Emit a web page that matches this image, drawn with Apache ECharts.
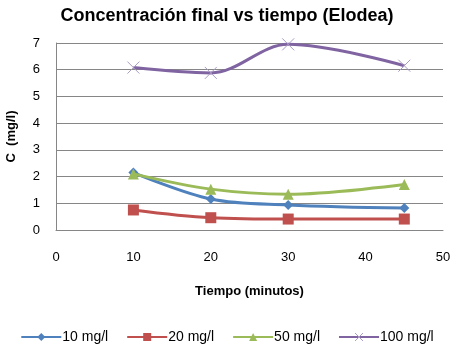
<!DOCTYPE html>
<html>
<head>
<meta charset="utf-8">
<script src="https://cdn.jsdelivr.net/npm/echarts@6/dist/echarts.min.js"></script>
<style>
  html, body { margin: 0; padding: 0; background: #fff; }
  #chart_container { width: 454px; height: 352px; }
</style>
</head>
<body>
<div id="chart_container"></div>
<script>
// concentration vs time chart

var tiempo = [10, 20, 30, 45];
var c10  = [2.15, 1.16, 0.94, 0.82];
var c20  = [0.75, 0.46, 0.41, 0.41];
var c50  = [2.10, 1.53, 1.34, 1.70];
var c100 = [6.08, 5.88, 6.95, 6.15];

var seriesNames = ['10 mg/l', '20 mg/l', '50 mg/l', '100 mg/l'];
var seriesData  = [c10, c20, c50, c100];
var colors  = ['#4F81BD', '#C0504D', '#9BBB59', '#8064A2'];
var symbols = ['diamond', 'rect', 'triangle',
    'path://M0,0 L10,10 M10,0 L0,10'];
var symSizes = [10, 11, 11, 12];

var font = 'Liberation Sans';

var chartDom = document.getElementById('chart_container');
var myChart = echarts.init(chartDom);

function pairs(ys) {
    return tiempo.map(function (t, i) { return [t, ys[i]]; });
}

var series = seriesData.map(function (ys, i) {
    var s = {
        name: seriesNames[i],
        type: 'line',
        smooth: 0.35,
        data: pairs(ys),
        symbol: symbols[i],
        symbolSize: symSizes[i],
        showSymbol: true,
        lineStyle: { color: colors[i], width: 3 },
        itemStyle: { color: colors[i] },
        z: 2 + i
    };
    if (i === 3) {
        // x marker drawn as stroke
        s.itemStyle = { color: 'none', borderColor: '#A99BC4', borderWidth: 1 };
    }
    return s;
});

var option = {
    animation: false,
    title: {
        text: 'Concentración final vs tiempo (Elodea)',
        left: 'center',
        top: 2,
        textStyle: { fontFamily: font, fontSize: 18, fontWeight: 'bold', color: '#000' }
    },
    legend: {
        bottom: 3,
        left: 'center',
        itemGap: 18,
        itemWidth: 40,
        itemHeight: 10,
        data: seriesNames.map(function (n, i) {
            return { name: n, itemStyle: i === 3 ? { color: 'none', borderColor: '#A99BC4', borderWidth: 1 } : { color: colors[i] } };
        }),
        textStyle: { fontFamily: font, fontSize: 14, color: '#000', padding: [0, 0, 0, -4] }
    },
    grid: { left: 56, right: 11, top: 43, bottom: 122, outerBoundsMode: 'none' },
    xAxis: {
        type: 'value',
        min: 0,
        max: 50,
        interval: 10,
        name: 'Tiempo (minutos)',
        nameLocation: 'middle',
        nameGap: 55,
        nameTextStyle: { fontFamily: font, fontSize: 13, fontWeight: 'bold', color: '#000' },
        axisLine: { show: true, lineStyle: { color: '#868686' } },
        axisTick: { show: false },
        splitLine: { show: false },
        axisLabel: { fontFamily: font, fontSize: 13, color: '#000', margin: 21 }
    },
    yAxis: {
        type: 'value',
        min: 0,
        max: 7,
        interval: 1,
        name: 'C  (mg/l)',
        nameLocation: 'middle',
        nameGap: 38,
        nameTextStyle: { fontFamily: font, fontSize: 13, fontWeight: 'bold', color: '#000' },
        axisLine: { show: true, lineStyle: { color: '#868686' } },
        axisTick: { show: false },
        splitLine: { show: true, lineStyle: { color: '#868686', width: 1 } },
        axisLabel: { fontFamily: font, fontSize: 13, color: '#000', margin: 16 }
    },
    series: series
};

myChart.setOption(option);
</script>
</body>
</html>
